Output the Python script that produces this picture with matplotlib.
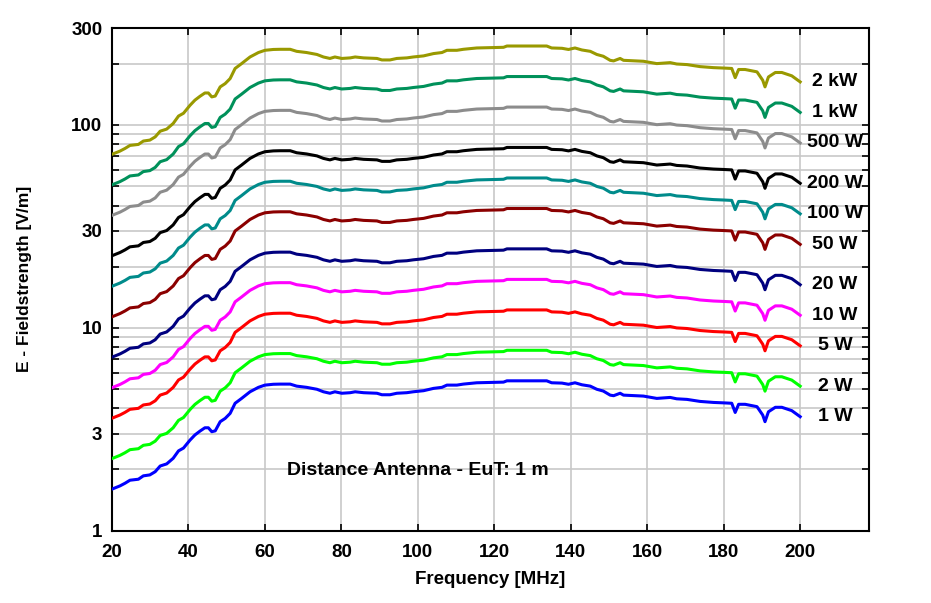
import matplotlib.pyplot as plt
import matplotlib.ticker as mticker
import numpy as np

# Kurve fuer 1 W (Frequenz in MHz, Feldstaerke in V/m)
freq_mhz = [20.0, 22.1, 23.4, 24.7, 26.9, 28.2, 29.9, 31.3, 32.6, 34.3, 36.0, 37.4,
            38.7, 40.4, 41.7, 43.0, 44.3, 45.2, 46.1, 47.0, 48.3, 49.6, 50.9, 52.2,
            53.9, 56.1, 58.3, 60.0, 62.2, 64.0, 66.6, 68.3, 70.9, 73.6, 75.3, 77.0,
            78.3, 80.1, 82.3, 83.6, 85.8, 89.3, 90.6, 92.7, 94.5, 97.1, 98.8, 101.5,
            104.1, 106.3, 107.6, 110.2, 111.9, 115.4, 122.4, 123.3, 133.7, 135.0, 137.7,
            139.4, 141.1, 142.9, 145.1, 146.8, 148.5, 150.3, 151.2, 152.9, 153.8, 159.0,
            162.5, 166.0, 167.7, 170.4, 173.8, 177.3, 179.9, 182.1, 183.0, 183.9, 185.6,
            188.7, 190.2, 190.8, 191.7, 193.5, 195.2, 197.8, 200.0]
e_1w = [1.60, 1.66, 1.71, 1.77, 1.79, 1.86, 1.88, 1.95, 2.08, 2.13, 2.27, 2.47,
        2.55, 2.79, 2.96, 3.09, 3.21, 3.21, 3.07, 3.10, 3.44, 3.57, 3.78, 4.24,
        4.48, 4.83, 5.08, 5.21, 5.26, 5.27, 5.27, 5.15, 5.08, 4.97, 4.83, 4.75,
        4.83, 4.75, 4.78, 4.83, 4.78, 4.75, 4.67, 4.67, 4.75, 4.78, 4.83, 4.89,
        5.02, 5.08, 5.21, 5.21, 5.27, 5.35, 5.39, 5.47, 5.47, 5.35, 5.33,
        5.26, 5.35, 5.23, 5.15, 4.97, 4.87, 4.65, 4.62, 4.75, 4.65, 4.60,
        4.48, 4.53, 4.46, 4.43, 4.33, 4.28, 4.26, 4.24, 3.82, 4.19, 4.19,
        4.08, 3.71, 3.44, 3.85, 4.05, 4.05, 3.90, 3.64]

power_w = [1, 2, 5, 10, 20, 50, 100, 200, 500, 1000, 2000]
power_labels = ["1 W", "2 W", "5 W", "10 W", "20 W", "50 W", "100 W", "200 W",
                "500 W", "1 kW", "2 kW"]
colors = ["#0000ff", "#00ff00", "#ff0000", "#ff00ff", "#00007f", "#8b0000",
          "#008b8b", "#000000", "#8c8c8c", "#00915a", "#999900"]

y_ticks = [1, 3, 10, 30, 100, 300]
x_ticks = list(range(20, 201, 20))

plt.rcParams["font.family"] = ["Liberation Sans", "DejaVu Sans"]
plt.rcParams["font.weight"] = "bold"

fig = plt.figure(figsize=(9.31, 6.03), dpi=100, facecolor="white")
ax = fig.add_axes([0.1203, 0.1202, 0.8131, 0.8333])

f = np.array(freq_mhz)
base = np.array(e_1w)
for p, lab, c in zip(power_w, power_labels, colors):
    e = base * np.sqrt(p)  # E ~ sqrt(P)
    ax.plot(f, e, color=c, lw=2.2, solid_joinstyle="round", zorder=3)
    ax.annotate(lab, xy=(f[-1], e[-1]), xytext=(25, 0), textcoords="offset points",
                ha="center", va="center", fontsize=14, fontweight="bold")

ax.set_yscale("log")
ax.set_xlim(20, 218)
ax.set_ylim(1, 300)
ax.set_yticks(y_ticks)
ax.yaxis.set_major_formatter(mticker.FixedFormatter([str(t) for t in y_ticks]))
ax.yaxis.set_minor_locator(mticker.LogLocator(base=10, subs=np.arange(2, 10)))
ax.yaxis.set_minor_formatter(mticker.NullFormatter())
ax.set_xticks(x_ticks)

ax.grid(True, which="both", color="#c8c8c8", lw=1.2, zorder=0)
ax.set_axisbelow(True)

ax.tick_params(which="both", direction="in", top=True, right=True,
               length=5, width=1.2, labelsize=13.5)
ax.tick_params(axis="x", pad=10)
ax.tick_params(axis="y", pad=7)
for lbl in ax.get_xticklabels() + ax.get_yticklabels():
    lbl.set_fontweight("bold")
for s in ax.spines.values():
    s.set_linewidth(1.5)

ax.set_xlabel("Frequency [MHz]", fontsize=13.5, fontweight="bold", labelpad=7)
ax.set_ylabel("E - Fieldstrength [V/m]", fontsize=12.5, fontweight="bold", labelpad=28)

ax.text(0.231, 0.120, "Distance Antenna - EuT: 1 m", transform=ax.transAxes,
        ha="left", va="center", fontsize=14, fontweight="bold")

fig.savefig("out.png", dpi=100, facecolor="white")
